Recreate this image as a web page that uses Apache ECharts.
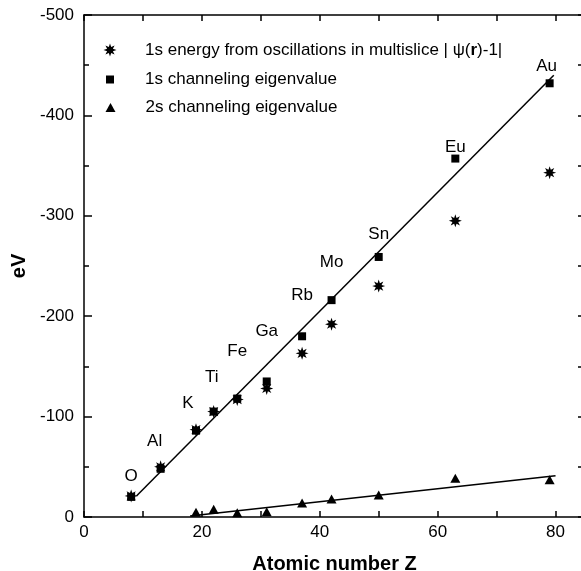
<!DOCTYPE html>
<html>
<head>
<meta charset="utf-8">
<script src="https://cdn.jsdelivr.net/npm/echarts@6/dist/echarts.min.js"></script>
<style>
html,body{margin:0;padding:0;background:#fff;overflow:hidden;}
#chart{width:581px;height:571px;}
</style>
</head>
<body>
<div id="chart"></div>
<script>
// ---- data ----
const elements = ['O', 'Al', 'K', 'Ti', 'Fe', 'Ga', 'Rb', 'Mo', 'Sn', 'Eu', 'Au'];
const atomicZ = [8, 13, 19, 22, 26, 31, 37, 42, 50, 63, 79];
const oscillation1s = [-21, -50, -87, -105, -117, -128, -163, -192, -230, -295, -343];
const channeling1s = [-20, -48, -86, -105, -118, -135, -180, -216, -259, -357, -432];
const atomicZ2s = [19, 22, 26, 31, 37, 42, 50, 63, 79];
const channeling2s = [-4.7, -7.7, -4.3, -5.3, -14, -18, -22, -38.5, -37];
const fit1sZ = [8.9, 79.7];
const fit1sEV = [-21, -440];
const fit2sZ = [18, 80];
const fit2sEV = [-1, -41];
const labelEV = [-41, -75, -113, -139, -165, -185, -221, -254, -282, -368, -449];
const xTicks = [0, 20, 40, 60, 80];
const yTicks = [-500, -400, -300, -200, -100, 0];

const seriesNames = [
  '1s energy from oscillations in multislice | \u03c8(r)-1|',
  '1s channeling eigenvalue',
  '2s channeling eigenvalue'
];

// ---- styling ----
const FONT = "'Liberation Sans', Arial, Helvetica, sans-serif";
function starPath() {
  let d = '';
  for (let i = 0; i < 16; i++) {
    const a = i * Math.PI / 8 - Math.PI / 2;
    const r = i % 2 === 0 ? 10 : 4.8;
    d += (i ? 'L' : 'M') + (10 + r * Math.cos(a)).toFixed(2) + ' ' + (10 + r * Math.sin(a)).toFixed(2) + ' ';
  }
  return 'path://' + d + 'Z';
}
const STAR = starPath();
const SQUARE = 'path://M0 0L10 0L10 10L0 10Z';
const TRI = 'path://M5 0L10 9L0 9Z';
const labelShift = { Al: -6, K: -8, Ti: -2, Au: -3 };

const zip = (a, b) => a.map((v, i) => [v, b[i]]);

const axisLineStyle = { color: '#000', width: 1.5 };

const chart = echarts.init(document.getElementById('chart'), null, { renderer: 'canvas' });

function legendFor(idx, top, h) {
  return {
    data: [{ name: seriesNames[idx], icon: [STAR, SQUARE, TRI][idx] }],
    left: 110 - h / 2, top: top, orient: 'vertical', padding: 0,
    itemWidth: 60, itemHeight: h,
    symbolKeepAspect: true,
    selectedMode: false,
    textStyle: {
      fontFamily: FONT, fontSize: 17, color: '#000',
      rich: { b: { fontFamily: FONT, fontSize: 17, fontWeight: 'bold', color: '#000' } }
    },
    formatter: idx === 0 ? function () {
      return '1s energy from oscillations in multislice | \u03c8({b|r})-1|';
    } : undefined
  };
}

const option = {
  animation: false,
  backgroundColor: '#fff',
  textStyle: { fontFamily: FONT },
  grid: { left: 84, right: -4, top: 15, bottom: 54, containLabel: false, outerBoundsMode: 'none' },
  legend: [legendFor(0, 41.5, 13), legendFor(1, 71, 8), legendFor(2, 99, 9)],
  xAxis: [{
    type: 'value', min: 0, max: 85, interval: 10, position: 'bottom',
    name: 'Atomic number Z', nameLocation: 'middle', nameGap: 37,
    nameTextStyle: { fontFamily: FONT, fontSize: 20, fontWeight: 'bold', color: '#000' },
    axisLine: { show: true, onZero: false, lineStyle: axisLineStyle },
    axisTick: { show: true, inside: true, length: 6, lineStyle: { color: '#000', width: 1.5 } },
    axisLabel: {
      margin: 7, fontFamily: FONT, fontSize: 17, color: '#000',
      formatter: v => (xTicks.indexOf(v) >= 0 ? String(v) : '')
    },
    splitLine: { show: false }
  }, {
    type: 'value', min: 0, max: 85, interval: 10, position: 'top',
    axisLine: { show: true, onZero: false, lineStyle: axisLineStyle },
    axisTick: { show: true, inside: true, length: 6, lineStyle: { color: '#000', width: 1.5 } },
    axisLabel: { show: false },
    splitLine: { show: false }
  }],
  yAxis: [{
    type: 'value', min: -500, max: 0, interval: 100, inverse: true, position: 'left',
    name: 'eV', nameLocation: 'middle', nameGap: 55,
    nameTextStyle: { fontFamily: FONT, fontSize: 20, fontWeight: 'bold', color: '#000' },
    axisLine: { show: true, onZero: false, lineStyle: axisLineStyle },
    axisTick: { show: true, inside: true, length: 8, lineStyle: { color: '#000', width: 1.5 } },
    minorTick: { show: true, splitNumber: 2, length: 5, lineStyle: { color: '#000', width: 1.5 } },
    axisLabel: {
      margin: 10, fontFamily: FONT, fontSize: 17, color: '#000',
      formatter: v => (yTicks.indexOf(v) >= 0 ? String(v) : '')
    },
    splitLine: { show: false }
  }, {
    type: 'value', min: -500, max: 0, interval: 50, inverse: true, position: 'right',
    axisLine: { show: true, onZero: false, lineStyle: axisLineStyle },
    axisTick: { show: true, inside: true, length: 7, lineStyle: { color: '#000', width: 1.5 } },
    axisLabel: { show: false },
    splitLine: { show: false }
  }],
  series: [
    {
      name: 'fit1s', type: 'line', data: zip(fit1sZ, fit1sEV), symbol: 'none',
      lineStyle: { color: '#000', width: 1.5 }, silent: true, z: 1
    },
    {
      name: 'fit2s', type: 'line', data: zip(fit2sZ, fit2sEV), symbol: 'none',
      lineStyle: { color: '#000', width: 1.5 }, silent: true, z: 1
    },
    {
      name: seriesNames[1], type: 'scatter', data: zip(atomicZ, channeling1s),
      symbol: 'rect', symbolSize: 8, itemStyle: { color: '#000', opacity: 1 }, z: 2
    },
    {
      name: seriesNames[2], type: 'scatter', data: zip(atomicZ2s, channeling2s),
      symbol: 'triangle', symbolSize: [10, 9], itemStyle: { color: '#000', opacity: 1 }, z: 2
    },
    {
      name: seriesNames[0], type: 'scatter', data: zip(atomicZ, oscillation1s),
      symbol: STAR, symbolSize: 13, itemStyle: { color: '#000', opacity: 1 }, z: 3
    },
    {
      name: 'elementLabels', type: 'scatter',
      data: atomicZ.map((z, i) => ({
        value: [z, labelEV[i]], name: elements[i],
        label: { offset: [labelShift[elements[i]] || 0, 0] }
      })),
      symbol: 'circle', symbolSize: 1, itemStyle: { color: 'rgba(0,0,0,0)' },
      label: {
        show: true, position: 'inside', formatter: p => p.name,
        fontFamily: FONT, fontSize: 17, color: '#000',
        textBorderWidth: 0, textBorderColor: 'transparent', opacity: 1
      },
      silent: true, z: 4
    }
  ]
};
chart.setOption(option);
</script>
</body>
</html>
